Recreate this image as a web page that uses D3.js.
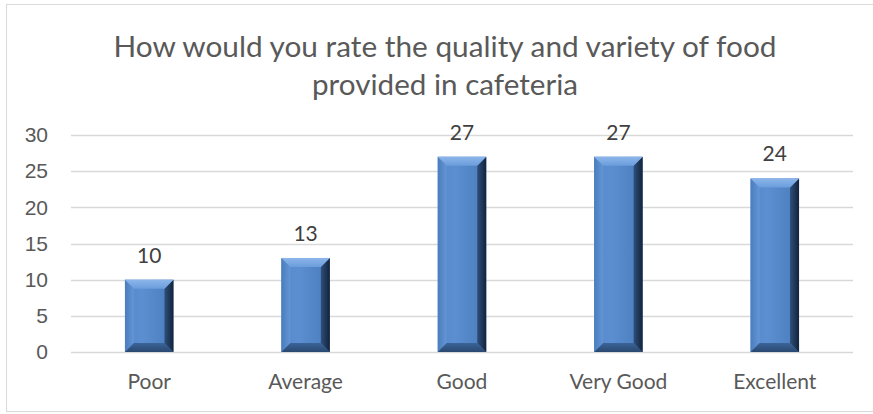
<!DOCTYPE html>
<html>
<head>
<meta charset="utf-8">
<script src="https://cdn.jsdelivr.net/npm/d3@7"></script>
<style>
  body { margin: 0; background: #fff; }
  svg { display: block; font-family: Lato, "Open Sans", sans-serif; }
</style>
</head>
<body>
<svg id="chart" width="873" height="414"></svg>
<script>
const categories = ['Poor', 'Average', 'Good', 'Very Good', 'Excellent'];
const values = [10, 13, 27, 27, 24];
const yTicks = [0, 5, 10, 15, 20, 25, 30];
const titleLines = ['How would you rate the quality and variety of food', 'provided in cafeteria'];
const titleWidths = [663, 266];

const width = 873;
const height = 414;
const margin = {top: 135, right: 20, bottom: 62, left: 71};

const svg = d3.select('#chart');

// chart frame
svg.append('rect')
  .attr('x', 6.5)
  .attr('y', 4.5)
  .attr('width', 900)
  .attr('height', 407)
  .attr('fill', '#fff')
  .attr('stroke', '#d9d9d9');

const x = d3.scaleBand()
  .domain(categories)
  .range([margin.left, width - margin.right])
  .paddingInner(0.69)
  .paddingOuter(0.345);

const y = d3.scaleLinear()
  .domain([0, 30])
  .range([height - margin.bottom, margin.top]);

// gridlines
svg.append('g')
  .selectAll('line')
  .data(yTicks)
  .enter()
  .append('line')
  .attr('x1', margin.left)
  .attr('x2', width - margin.right)
  .attr('y1', d => Math.round(y(d)) + 0.5)
  .attr('y2', d => Math.round(y(d)) + 0.5)
  .attr('stroke', '#d9d9d9')
  .attr('stroke-width', 1.3);

// y axis labels
const yAxis = d3.axisLeft(y).tickValues(yTicks).tickSize(0).tickPadding(0);
const yg = svg.append('g')
  .attr('transform', `translate(48,0)`)
  .call(yAxis);
yg.select('.domain').remove();
yg.selectAll('text')
  .attr('fill', '#595959')
  .style('font-size', '21px')
  .attr('font-family', null);

// category labels
svg.append('g')
  .selectAll('text')
  .data(categories)
  .enter()
  .append('text')
  .attr('x', d => x(d) + x.bandwidth() / 2)
  .attr('y', 389)
  .attr('text-anchor', 'middle')
  .attr('fill', '#595959')
  .style('font-size', '21px')
  .text(d => d);

// gradients for bevelled bars
const defs = svg.append('defs');
function grad(id, dir, stops) {
  const g = defs.append('linearGradient').attr('id', id);
  if (dir === 'h') g.attr('x1', 0).attr('y1', 0).attr('x2', 1).attr('y2', 0);
  else g.attr('x1', 0).attr('y1', 0).attr('x2', 0).attr('y2', 1);
  stops.forEach(s => g.append('stop').attr('offset', s[0]).attr('stop-color', s[1]));
}
grad('face', 'h', [[0, '#5688c8'], [0.35, '#5b8fd1'], [1, '#4a7cbb']]);
grad('topBevel', 'v', [[0, '#8cb6ea'], [1, '#6b9ddc']]);
grad('rightBevel', 'h', [[0, '#2e4f7c'], [1, '#13233a']]);
grad('bottomBevel', 'v', [[0, '#3b6499'], [1, '#2a4870']]);
grad('leftBevel', 'h', [[0, '#4a7dbd'], [1, '#6496d6']]);

const bars = svg.append('g')
  .selectAll('g')
  .data(values)
  .enter()
  .append('g');

function bevelPoints(i, side) {
  const x0 = x(categories[i]);
  const x1 = x0 + x.bandwidth();
  const y0 = y(values[i]);
  const y1 = y(0);
  const b = Math.min(9, (y1 - y0) / 2, x.bandwidth() / 2);
  const pts = {
    top: [[x0, y0], [x1, y0], [x1 - b, y0 + b], [x0 + b, y0 + b]],
    right: [[x1, y0], [x1, y1], [x1 - b, y1 - b], [x1 - b, y0 + b]],
    bottom: [[x0, y1], [x1, y1], [x1 - b, y1 - b], [x0 + b, y1 - b]],
    left: [[x0, y0], [x0 + b, y0 + b], [x0 + b, y1 - b], [x0, y1]]
  };
  return pts[side].map(p => p.join(',')).join(' ');
}

bars.append('rect')
  .attr('x', (d, i) => x(categories[i]))
  .attr('y', d => y(d))
  .attr('width', x.bandwidth())
  .attr('height', d => y(0) - y(d))
  .attr('fill', 'url(#face)');

[['left', 'url(#leftBevel)'], ['bottom', 'url(#bottomBevel)'], ['right', 'url(#rightBevel)'], ['top', 'url(#topBevel)']]
  .forEach(([side, fill]) => {
    bars.append('polygon')
      .attr('points', (d, i) => bevelPoints(i, side))
      .attr('fill', fill);
  });

// value labels
svg.append('g')
  .selectAll('text')
  .data(values)
  .enter()
  .append('text')
  .attr('x', (d, i) => x(categories[i]) + x.bandwidth() / 2)
  .attr('y', d => y(d) - 17)
  .attr('text-anchor', 'middle')
  .attr('fill', '#404040')
  .style('font-size', '21px')
  .text(d => d);

// title, squeezed to the narrow width of the original face
svg.append('g')
  .selectAll('text')
  .data(titleLines)
  .enter()
  .append('text')
  .attr('x', 445)
  .attr('y', (d, i) => 57 + i * 38)
  .attr('text-anchor', 'middle')
  .attr('fill', '#595959')
  .attr('textLength', (d, i) => titleWidths[i])
  .attr('lengthAdjust', 'spacingAndGlyphs')
  .style('font-size', '28px')
  .text(d => d);
</script>
</body>
</html>
